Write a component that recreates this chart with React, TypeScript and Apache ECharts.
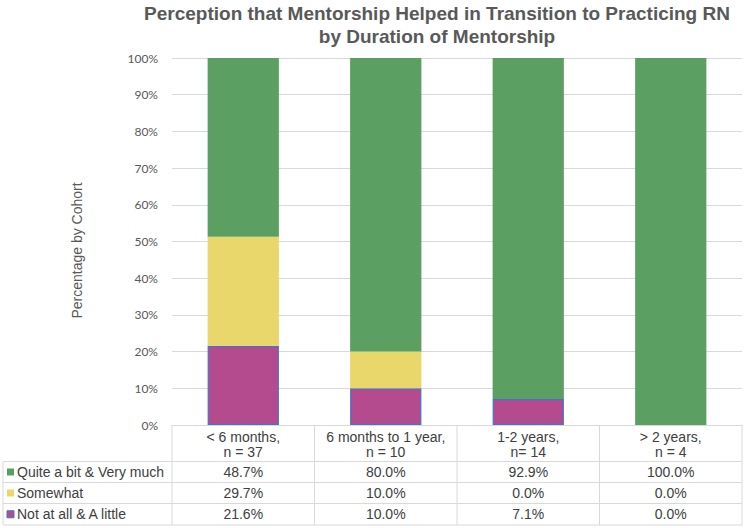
import React, { useEffect, useRef } from "react";
import * as echarts from "echarts";

const categories = ["< 6 months,\nn = 37", "6 months to 1 year,\nn = 10", "1-2 years,\nn= 14", "> 2 years,\nn = 4"];
const seriesNames = ["Quite a bit & Very much", "Somewhat", "Not at all & A little"];
const quiteABit = [48.7, 80.0, 92.9, 100.0];
const somewhat = [29.7, 10.0, 0.0, 0.0];
const notAtAll = [21.6, 10.0, 7.1, 0.0];
const seriesColors = ["#5BA062", "#E9D76C", "#B44B8F"];
const yTicks = [0, 10, 20, 30, 40, 50, 60, 70, 80, 90, 100];

const W = 748;
const H = 528;
const G_LEFT = 172;
const G_RIGHT = 742;
const G_TOP = 58;
const G_BOTTOM = 425;
const TABLE_LEFT = 3;
const ROW_LINES = [461.5, 482.5, 503.5, 525];

export default function App() {
  const ref = useRef<HTMLDivElement>(null);
  useEffect(() => {
    if (!ref.current) return;
    const chart = echarts.init(ref.current, null, { renderer: "svg" });
    const rows = [quiteABit, somewhat, notAtAll];
    const colW = (G_RIGHT - G_LEFT) / categories.length;
    const lineColor = "#D9D9D9";
    const font = "'Liberation Sans', Arial, sans-serif";
    const graphics: any[] = [];
    // title
    graphics.push({
      type: "text",
      x: 437,
      y: 2,
      style: {
        text: "Perception that Mentorship Helped in Transition to Practicing RN\nby Duration of Mentorship",
        fill: "#595959",
        font: "bold 19px " + font,
        align: "center",
        verticalAlign: "top",
        lineHeight: 23,
      },
    });
    ROW_LINES.forEach((y) => {
      graphics.push({
        type: "line",
        shape: { x1: TABLE_LEFT, y1: y, x2: G_RIGHT, y2: y },
        style: { stroke: lineColor, lineWidth: 1 },
      });
    });
    graphics.push({
      type: "line",
      shape: { x1: TABLE_LEFT, y1: ROW_LINES[0], x2: TABLE_LEFT, y2: ROW_LINES[3] },
      style: { stroke: lineColor, lineWidth: 1 },
    });
    for (let i = 0; i <= categories.length; i++) {
      const x = G_LEFT + i * colW;
      graphics.push({
        type: "line",
        shape: { x1: x, y1: G_BOTTOM, x2: x, y2: ROW_LINES[3] },
        style: { stroke: lineColor, lineWidth: 1 },
      });
    }
    rows.forEach((vals, r) => {
      const top = ROW_LINES[r];
      const bottom = ROW_LINES[r + 1];
      const cy = (top + bottom) / 2;
      graphics.push({
        type: "rect",
        shape: { x: 7, y: cy - 3.5, width: 7, height: 7 },
        style: {
          fill: seriesColors[r],
          stroke: r === 2 ? "#4472C4" : null,
          lineWidth: r === 2 ? 1 : 0,
        },
      });
      graphics.push({
        type: "text",
        x: 17,
        y: cy,
        style: {
          text: seriesNames[r],
          fill: "#404040",
          font: "14px " + font,
          align: "left",
          verticalAlign: "middle",
        },
      });
      vals.forEach((v, c) => {
        graphics.push({
          type: "text",
          x: G_LEFT + (c + 0.5) * colW,
          y: cy,
          style: {
            text: v.toFixed(1) + "%",
            fill: "#404040",
            font: "14px " + font,
            align: "center",
            verticalAlign: "middle",
          },
        });
      });
    });

    const toBar = (arr: number[]) => arr.map((v) => (v === 0 ? null : v));

    chart.setOption({
      animation: false,
      backgroundColor: "#ffffff",
      grid: { left: G_LEFT, right: W - G_RIGHT, top: G_TOP, bottom: H - G_BOTTOM, containLabel: false },
      xAxis: {
        type: "category",
        data: categories,
        axisLine: { show: true, lineStyle: { color: lineColor } },
        axisTick: { show: false },
        axisLabel: {
          margin: 4,
          color: "#404040",
          fontSize: 14,
          lineHeight: 15,
          fontFamily: font,
          interval: 0,
        },
      },
      yAxis: {
        type: "value",
        min: yTicks[0],
        max: yTicks[yTicks.length - 1],
        interval: 10,
        name: "Percentage by Cohort",
        nameLocation: "middle",
        nameGap: 88,
        nameTextStyle: {
          color: "#595959",
          fontSize: 14,
          fontFamily: font,
          padding: [0, 18, 0, 0],
        },
        axisLine: { show: false },
        axisTick: { show: false },
        axisLabel: {
          margin: 14,
          color: "#595959",
          fontSize: 12,
          fontFamily: "Lato, 'Noto Sans', sans-serif",
          formatter: (v: number) => v + "%",
        },
        splitLine: { lineStyle: { color: lineColor, width: 1 } },
      },
      series: [
        {
          name: seriesNames[2],
          type: "bar",
          stack: "total",
          data: toBar(notAtAll),
          barWidth: "50%",
          itemStyle: { color: seriesColors[2], borderColor: "#4472C4", borderWidth: 1.2 },
        },
        {
          name: seriesNames[1],
          type: "bar",
          stack: "total",
          data: toBar(somewhat),
          barWidth: "50%",
          itemStyle: { color: seriesColors[1] },
        },
        {
          name: seriesNames[0],
          type: "bar",
          stack: "total",
          data: toBar(quiteABit),
          barWidth: "50%",
          itemStyle: { color: seriesColors[0] },
        },
      ],
      graphic: graphics,
    });
    return () => chart.dispose();
  }, []);
  return <div ref={ref} style={{ width: W, height: H, position: "absolute", left: 0, top: 0 }} />;
}
